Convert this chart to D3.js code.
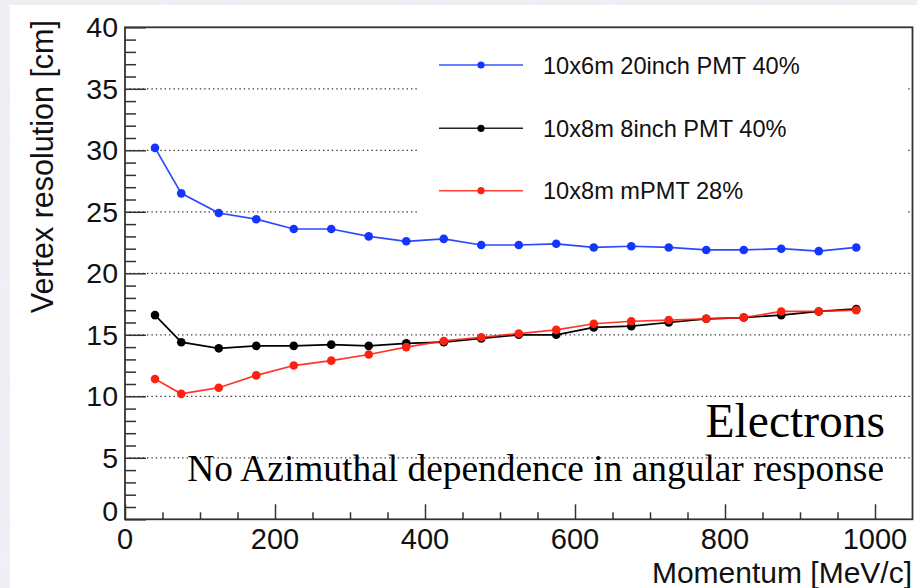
<!DOCTYPE html>
<html>
<head>
<meta charset="utf-8">
<script src="https://cdn.jsdelivr.net/npm/d3@7"></script>
<style>
  html, body { margin: 0; padding: 0; background: #e7eaef; }
  svg { display: block; }
</style>
</head>
<body>
<svg id="chart" width="917" height="588"></svg>
<script>
// ---- data ----
const momentum = [40, 75, 125, 175, 225, 275, 325, 375, 425, 475, 525, 575, 625, 675, 725, 775, 825, 875, 925, 975];
const res20inch = [30.2, 26.5, 24.9, 24.4, 23.6, 23.6, 23.0, 22.6, 22.8, 22.3, 22.3, 22.4, 22.1, 22.2, 22.1, 21.9, 21.9, 22.0, 21.8, 22.1];
const res8inch  = [16.6, 14.4, 13.9, 14.1, 14.1, 14.2, 14.1, 14.3, 14.4, 14.7, 15.0, 15.0, 15.6, 15.7, 16.0, 16.3, 16.4, 16.6, 16.9, 17.1];
const resMPMT   = [11.4, 10.2, 10.7, 11.7, 12.5, 12.9, 13.4, 14.0, 14.5, 14.8, 15.1, 15.4, 15.9, 16.1, 16.2, 16.3, 16.4, 16.9, 16.9, 17.0];
const seriesNames = ["10x6m 20inch PMT 40%", "10x8m 8inch PMT 40%", "10x8m mPMT 28%"];
const seriesColors = ["#1434ff", "#000000", "#ff2010"];
const xTickLabels = [0, 200, 400, 600, 800, 1000];
const yTickLabels = [0, 5, 10, 15, 20, 25, 30, 35, 40];
const xTitle = "Momentum [MeV/c]";
const yTitle = "Vertex resolution [cm]";
const note1 = "Electrons";
const note2 = "No Azimuthal dependence in angular response";

const seriesValues = [res20inch, res8inch, resMPMT];

const svg = d3.select("#chart");

// background texture
const defs = svg.append("defs");
const filt = defs.append("filter").attr("id", "marble").attr("x", 0).attr("y", 0).attr("width", "100%").attr("height", "100%");
filt.append("feTurbulence").attr("type", "fractalNoise").attr("baseFrequency", "0.04").attr("numOctaves", 3).attr("seed", 4).attr("result", "noise");
filt.append("feColorMatrix").attr("type", "matrix")
  .attr("values", "0 0 0 0 0.86  0 0 0 0 0.88  0 0 0 0 0.92  0 0 0 -0.9 0.75");
svg.append("rect").attr("width", 917).attr("height", 588).attr("fill", "#eceef2");
svg.append("rect").attr("width", 917).attr("height", 588).attr("filter", "url(#marble)");

// white panel
svg.append("rect").attr("x", 10).attr("y", 5).attr("width", 907).attr("height", 583).attr("fill", "#ffffff");

// scales
const x = d3.scaleLinear().domain([0, 1050]).range([125, 912.5]);
const y = d3.scaleLinear().domain([0, 40]).range([519.3, 27.3]);

const sans = "'Liberation Sans', Arial, Helvetica, sans-serif";
const serif = "'Liberation Serif', 'Times New Roman', serif";

// grid
const gGrid = svg.append("g");
gGrid.selectAll("line").data(yTickLabels.filter(v => v > 0 && v < 40)).join("line")
  .attr("x1", x(0)).attr("x2", x(1050))
  .attr("y1", d => y(d)).attr("y2", d => y(d))
  .attr("stroke", "#3a3a3a").attr("stroke-width", 1.3)
  .attr("stroke-dasharray", "1.4,3");

// legend box (covers grid)
svg.append("rect").attr("x", 418).attr("y", 30).attr("width", 489).attr("height", 205).attr("fill", "#ffffff");

// y axis
const yAxis = d3.axisRight(y).tickValues(d3.range(0, 40.01, 1)).tickSize(0).tickFormat("");
const gy = svg.append("g").attr("transform", `translate(${x(0)},0)`).call(yAxis);
gy.select(".domain").remove();
gy.selectAll(".tick line")
  .attr("x2", d => (d % 5 === 0 ? 21 : 11))
  .attr("stroke", "#333").attr("stroke-width", 1.5);

// x axis
const xAxis = d3.axisTop(x).tickValues(d3.range(0, 1050, 50)).tickSize(0).tickFormat("");
const gx = svg.append("g").attr("transform", `translate(0,${y(0)})`).call(xAxis);
gx.select(".domain").remove();
gx.selectAll(".tick line")
  .attr("y2", d => (d % 200 === 0 ? -15 : -7))
  .attr("stroke", "#333").attr("stroke-width", 1.5);

// frame
svg.append("rect").attr("x", x(0)).attr("y", y(40)).attr("width", x(1050) - x(0)).attr("height", y(0) - y(40))
  .attr("fill", "none").attr("stroke", "#333").attr("stroke-width", 1.8);

// tick labels
svg.append("g").selectAll("text").data(yTickLabels).join("text")
  .attr("x", 118).attr("y", d => y(d) + (d === 0 ? 2 : 10))
  .attr("text-anchor", "end")
  .attr("font-family", sans).attr("font-size", 28.5).attr("fill", "#111")
  .text(d => d);
svg.append("g").selectAll("text").data(xTickLabels).join("text")
  .attr("x", d => x(d)).attr("y", 548.5)
  .attr("text-anchor", "middle")
  .attr("font-family", sans).attr("font-size", 29).attr("fill", "#111")
  .text(d => d);

// axis titles
svg.append("text").attr("x", 912).attr("y", 582.5).attr("text-anchor", "end")
  .attr("font-family", sans).attr("font-size", 30).attr("fill", "#111").text(xTitle);
svg.append("text").attr("transform", "translate(53,20) rotate(-90)").attr("text-anchor", "end")
  .attr("font-family", sans).attr("font-size", 30.5).attr("fill", "#111").text(yTitle);

// data lines & markers
const line = d3.line().x((d, i) => x(momentum[i])).y(d => y(d));
seriesValues.forEach((vals, k) => {
  svg.append("path").datum(vals).attr("d", line)
    .attr("fill", "none").attr("stroke", seriesColors[k]).attr("stroke-width", 1.7).attr("opacity", k === 1 ? 1 : 0.9);
});
seriesValues.forEach((vals, k) => {
  svg.append("g").selectAll("circle").data(vals).join("circle")
    .attr("cx", (d, i) => x(momentum[i])).attr("cy", d => y(d)).attr("r", 4.3)
    .attr("fill", seriesColors[k]);
});

// legend
const legY = [65, 128.3, 190.7];
const leg = svg.append("g").selectAll("g").data(seriesNames).join("g")
  .attr("transform", (d, i) => `translate(0,${legY[i]})`);
leg.append("line").attr("x1", 439).attr("x2", 523).attr("y1", 0).attr("y2", 0)
  .attr("stroke", (d, i) => seriesColors[i]).attr("stroke-width", 1.5).attr("opacity", 0.85);
leg.append("circle").attr("cx", 481).attr("cy", 0).attr("r", 3.6).attr("fill", (d, i) => seriesColors[i]);
leg.append("text").attr("x", 543).attr("y", 8.5)
  .attr("font-family", sans).attr("font-size", 23.6).attr("fill", "#111").text(d => d);

// annotations
svg.append("text").attr("x", 885).attr("y", 437).attr("text-anchor", "end")
  .attr("font-family", serif).attr("font-size", 47.5).attr("fill", "#000").text(note1);
svg.append("text").attr("x", 884).attr("y", 481).attr("text-anchor", "end")
  .attr("font-family", serif).attr("font-size", 37.4).attr("fill", "#000").text(note2);
</script>
</body>
</html>
